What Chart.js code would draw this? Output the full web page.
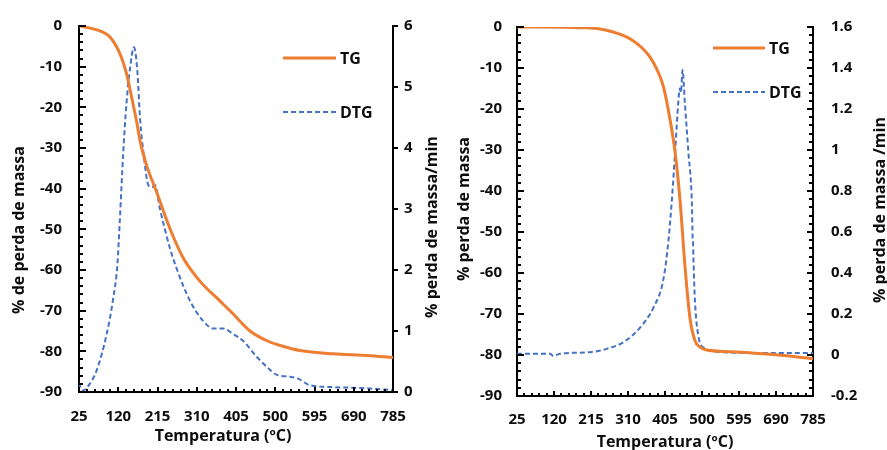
<!DOCTYPE html>
<html lang="pt">
<head>
<meta charset="UTF-8">
<title>TG / DTG</title>
<script src="https://cdn.jsdelivr.net/npm/chart.js"></script>
<style>
  html, body { margin: 0; padding: 0; background: #fff; }
  #wrap { position: relative; width: 887px; height: 450px; overflow: hidden; background: #fff; }
  #leftChart { position: absolute; left: 0; top: 0; }
  #rightChart { position: absolute; left: 440px; top: 0; }
</style>
</head>
<body>
<div id="wrap">
  <canvas id="leftChart" width="440" height="450"></canvas>
  <canvas id="rightChart" width="447" height="450"></canvas>
</div>
<script>
// tick labels
const xTicks = [25, 120, 215, 310, 405, 500, 595, 690, 785];
const massTicks = [-90, -80, -70, -60, -50, -40, -30, -20, -10, 0];
const rateTicksA = [0, 1, 2, 3, 4, 5, 6];
const rateTicksB = [-0.2, 0, 0.2, 0.4, 0.6, 0.8, 1, 1.2, 1.4, 1.6];

// left panel
const tgTempA = [25, 59, 80, 100, 124, 140, 152, 165, 173, 181, 189, 213, 245, 277, 318, 366, 398, 439, 480, 520, 560, 640, 722, 785];
const tgMassA = [0, -0.7, -1.4, -2.7, -6.8, -11.7, -17.3, -23.8, -28.4, -31.6, -34.4, -40.9, -49.8, -57, -62.8, -67.6, -70.8, -75, -77.4, -78.8, -79.8, -80.6, -81, -81.5];
const dtgTempA = [25, 32, 44, 68, 92, 107, 118, 124, 132, 140, 148, 158, 166, 173, 181, 193, 201, 209, 221, 245, 261, 294, 325, 350, 374, 398, 422, 456, 480, 504, 536, 555, 584, 640, 722, 785];
const dtgRateA = [0.15, 0.02, 0.07, 0.36, 0.95, 1.5, 2.1, 2.84, 3.92, 4.74, 5.28, 5.65, 5.28, 4.46, 3.92, 3.39, 3.36, 3.39, 3.0, 2.36, 2.03, 1.49, 1.17, 1.04, 1.04, 0.95, 0.84, 0.57, 0.41, 0.28, 0.25, 0.22, 0.11, 0.08, 0.06, 0.03];

// right panel
const tgTempB = [25, 169, 200, 238, 260, 281, 303, 324, 345, 367, 385, 401, 418, 431, 444, 456, 469, 482, 495, 512, 598, 683, 785];
const tgMassB = [0, -0.1, -0.2, -0.5, -0.9, -1.5, -2.3, -3.4, -5.0, -7.4, -10.5, -14.6, -22.6, -30.6, -42.7, -58, -70.9, -76.5, -78.1, -78.8, -79.3, -79.9, -80.9];
const dtgTempB = [25, 110, 118, 135, 213, 255, 298, 341, 375, 401, 414, 422, 431, 439, 443, 446, 450, 456, 465, 474, 476, 477, 478, 482, 490, 503, 554, 650, 785];
const dtgRateB = [0.006, 0.006, -0.005, 0.006, 0.014, 0.03, 0.062, 0.134, 0.23, 0.37, 0.56, 0.74, 0.99, 1.23, 1.3, 1.28, 1.39, 1.23, 0.99, 0.74, 0.57, 0.55, 0.47, 0.26, 0.1, 0.038, 0.014, 0.01, 0.01];

const FONT = '"Open Sans", "DejaVu Sans", sans-serif';
const INK = '#0d0d0d';
const ORANGE = '#ED7D31';
const BLUE = '#4472C4';

const pts = (xs, ys) => xs.map((x, i) => ({ x: x, y: ys[i] }));

function range(a, b, step) {
  const out = [];
  for (let v = a; v <= b + step / 1000; v += step) out.push(Math.round(v * 1000) / 1000);
  return out;
}

function fmt(v) {
  return String(Number(v.toFixed(2)));
}

// short tick marks along the axes, placed through the chart's scales
function drawMarks(chart, marks) {
  const ctx = chart.ctx, a = chart.chartArea;
  ctx.save();
  ctx.globalAlpha = 1;
  ctx.globalCompositeOperation = 'source-over';
  ctx.setLineDash([]);
  ctx.strokeStyle = '#000';
  ctx.lineWidth = 2;
  ctx.lineCap = 'butt';
  ctx.beginPath();
  marks.forEach(m => {
    const sc = chart.scales[m.scale];
    m.values.forEach(v => {
      const q = Math.round(sc.getPixelForValue(v));
      if (m.scale === 'x') {
        const b = Math.round(a.bottom);
        ctx.moveTo(q, b);
        ctx.lineTo(q, b - m.len);
      } else {
        const x0 = Math.round(m.scale === 'y' ? a.left : a.right);
        ctx.moveTo(x0, q);
        ctx.lineTo(x0 + m.dir * m.len, q);
      }
    });
  });
  ctx.stroke();
  ctx.restore();
}

// tick marks, axis titles and the small legend
function panelPlugin(id, p) {
  return {
    id: id,
    afterDatasetsDraw(chart) {
      drawMarks(chart, p.marks);
    },
    afterDraw(chart) {
      const ctx = chart.ctx;
      drawMarks(chart, p.marks);
      ctx.save();
      ctx.fillStyle = INK;
      ctx.font = 'bold 16px ' + FONT;
      ctx.textAlign = 'center';
      ctx.textBaseline = 'middle';
      p.titles.forEach(t => {
        ctx.save();
        ctx.translate(t.x, t.y);
        if (t.rot) ctx.rotate(-Math.PI / 2);
        ctx.fillText(t.text, 0, 0);
        ctx.restore();
      });

      chart.data.datasets.forEach((ds, i) => {
        const y = p.legend.y[i];
        ctx.save();
        ctx.strokeStyle = ds.borderColor;
        ctx.lineWidth = ds.borderWidth;
        ctx.setLineDash(ds.borderDash || []);
        ctx.beginPath();
        ctx.moveTo(p.legend.x0, y);
        ctx.lineTo(p.legend.x1, y);
        ctx.stroke();
        ctx.restore();
        ctx.textAlign = 'left';
        ctx.fillText(ds.label, p.legend.x1 + 4, y + 1);
      });
      ctx.restore();
    }
  };
}

function axis(opts) {
  return {
    type: 'linear',
    position: opts.position,
    min: opts.min,
    max: opts.max,
    afterBuildTicks: s => { s.ticks = opts.ticks.map(v => ({ value: v })); },
    afterFit: s => {
      if (opts.position === 'bottom') s.height = opts.size;
      else s.width = opts.size;
    },
    grid: { display: false, drawTicks: false },
    border: { display: true, color: '#000', width: 2 },
    ticks: {
      color: INK,
      font: { family: FONT, size: 15, weight: 'bold' },
      padding: opts.pad,
      maxRotation: 0,
      autoSkip: false,
      callback: v => fmt(v)
    }
  };
}

function makeChart(id, p) {
  return new Chart(document.getElementById(id), {
    type: 'line',
    data: {
      datasets: [
        {
          label: 'TG',
          data: pts(p.tgT, p.tgM),
          yAxisID: 'y',
          borderColor: ORANGE,
          borderWidth: 3,
          pointRadius: 0,
          cubicInterpolationMode: 'monotone',
          fill: false
        },
        {
          label: 'DTG',
          data: pts(p.dtgT, p.dtgR),
          yAxisID: 'y2',
          borderColor: BLUE,
          borderWidth: 2,
          borderDash: [5, 3],
          pointRadius: 0,
          cubicInterpolationMode: 'monotone',
          fill: false
        }
      ]
    },
    options: {
      responsive: false,
      animation: false,
      devicePixelRatio: 1,
      layout: { padding: { top: p.top, left: 0, right: 0, bottom: 0 } },
      plugins: { legend: { display: false }, tooltip: { enabled: false } },
      scales: {
        x: axis({ position: 'bottom', min: 25, max: 785, ticks: xTicks, size: p.xH, pad: p.xPad }),
        y: axis({ position: 'left', min: -90, max: 0, ticks: massTicks, size: p.yW, pad: p.yPad }),
        y2: axis({ position: 'right', min: p.rMin, max: p.rMax, ticks: p.rTicks, size: p.y2W, pad: p.y2Pad })
      }
    },
    plugins: [panelPlugin('deco_' + id, p.deco)]
  });
}

makeChart('leftChart', {
  tgT: tgTempA, tgM: tgMassA, dtgT: dtgTempA, dtgR: dtgRateA,
  top: 22, xH: 58, xPad: 16, yW: 79, yPad: 17, y2W: 47, y2Pad: 11,
  rMin: 0, rMax: 6, rTicks: rateTicksA,
  deco: {
    marks: [
      { scale: 'y', values: range(-90, 0, 2), len: 4, dir: 1 },
      { scale: 'y', values: massTicks, len: 7, dir: 1 },
      { scale: 'x', values: range(25, 785, 19), len: 3 },
      { scale: 'x', values: xTicks, len: 5 },
      { scale: 'y2', values: rateTicksA, len: 5, dir: 1 }
    ],
    titles: [
      { text: '% de perda de massa', x: 19, y: 230, rot: true },
      { text: '% perda de massa/min', x: 432, y: 227, rot: true },
      { text: 'Temperatura (ºC)', x: 223, y: 436 }
    ],
    legend: { x0: 283, x1: 336, y: [58, 112] }
  }
});

makeChart('rightChart', {
  tgT: tgTempB, tgM: tgMassB, dtgT: dtgTempB, dtgR: dtgRateB,
  top: 23, xH: 54, xPad: 15, yW: 77, yPad: 15, y2W: 74, y2Pad: 18,
  rMin: -0.2, rMax: 1.6, rTicks: rateTicksB,
  deco: {
    marks: [
      { scale: 'y', values: range(-90, 0, 2), len: 4, dir: 1 },
      { scale: 'y', values: massTicks, len: 7, dir: 1 },
      { scale: 'x', values: range(25, 785, 19), len: 3 },
      { scale: 'x', values: xTicks, len: 5 },
      { scale: 'y2', values: range(-0.2, 1.6, 0.04), len: 4, dir: -1 },
      { scale: 'y2', values: rateTicksB, len: 6, dir: -1 }
    ],
    titles: [
      { text: '% perda de massa', x: 24, y: 209, rot: true },
      { text: '% perda de massa /min', x: 440, y: 210, rot: true },
      { text: 'Temperatura (ºC)', x: 225, y: 442 }
    ],
    legend: { x0: 273, x1: 325, y: [48, 92] }
  }
});
</script>
</body>
</html>
